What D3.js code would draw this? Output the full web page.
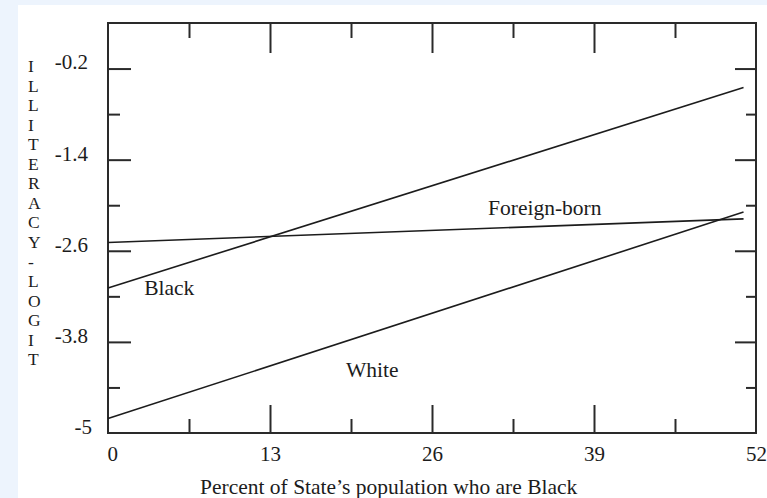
<!DOCTYPE html>
<html>
<head>
<meta charset="utf-8">
<script src="https://cdn.jsdelivr.net/npm/d3@7/dist/d3.min.js"></script>
<style>
  html, body { margin: 0; padding: 0; background: #edf4fd; }
  svg { display: block; }
  text { font-family: "Liberation Serif", "Times New Roman", serif; fill: #1c1c1c; }
</style>
</head>
<body>
<svg id="chart" width="767" height="498"></svg>
<script>
// Fitted illiteracy logits against percent of a state's population who are Black
const xEnds = [0, 51];
const foreignBorn = [-2.49, -2.18];
const black = [-3.09, -0.45];
const white = [-4.81, -2.09];
const seriesNames = ["Foreign-born", "Black", "White"];

const xMajorTicks = [0, 13, 26, 39, 52];
const xMinorTicks = [6.5, 19.5, 32.5, 45.5];
const yMajorTicks = [-5, -3.8, -2.6, -1.4, -0.2];
const yMinorTicks = [-4.4, -3.2, -2.0, -0.8];
const yTitle = "ILLITERACY-LOGIT";
const xTitle = "Percent of State\u2019s population who are Black";

// label anchors, in data units
const labelAnchors = { "Foreign-born": [30.5, -2.13], "Black": [2.9, -3.18], "White": [19.1, -4.26] };

const svg = d3.select("#chart");
const ink = "#1c1c1c";

// paper
svg.append("rect").attr("x", 18).attr("y", 5).attr("width", 767 - 18).attr("height", 498 - 5).attr("fill", "#ffffff");

const x = d3.scaleLinear().domain([0, 52]).range([108, 756]);
const y = d3.scaleLinear().domain([-5, 0.4]).range([433, 23]);

// frame
svg.append("rect")
  .attr("x", x(0)).attr("y", y(0.4))
  .attr("width", x(52) - x(0)).attr("height", y(-5) - y(0.4))
  .attr("fill", "none").attr("stroke", "#2a2a2a").attr("stroke-width", 2);

function styleAxis(g) {
  g.select(".domain").remove();
  g.selectAll(".tick line").attr("stroke", "#2a2a2a").attr("stroke-width", 2);
  g.selectAll("text").attr("fill", ink).style("font-size", "21px")
    .style("font-family", '"Liberation Serif", "Times New Roman", serif');
}

// plain hyphen for negative numbers, as typeset
const plain = d => String(d);

// bottom axis: labelled majors and short minors, ticks pointing inward
svg.append("g").attr("transform", `translate(0,${y(-5)})`)
  .call(d3.axisBottom(x).tickValues(xMajorTicks.slice(1, -1)).tickSize(-28).tickFormat(""))
  .call(styleAxis);
svg.append("g").attr("transform", `translate(0,${y(-5)})`)
  .call(d3.axisBottom(x).tickValues(xMinorTicks).tickSize(-14).tickFormat(""))
  .call(styleAxis);
const xLab = svg.append("g").attr("transform", `translate(0,${y(-5)})`)
  .call(d3.axisBottom(x).tickValues(xMajorTicks).tickSize(0).tickPadding(13).tickFormat(plain))
  .call(styleAxis);
xLab.selectAll(".tick").filter(d => d === 0).select("text").attr("text-anchor", "start").attr("x", -1);

// top axis
svg.append("g").attr("transform", `translate(0,${y(0.4)})`)
  .call(d3.axisTop(x).tickValues(xMajorTicks.slice(1, -1)).tickSize(-30).tickFormat(""))
  .call(styleAxis);
svg.append("g").attr("transform", `translate(0,${y(0.4)})`)
  .call(d3.axisTop(x).tickValues(xMinorTicks).tickSize(-15).tickFormat(""))
  .call(styleAxis);

// left axis
svg.append("g").attr("transform", `translate(${x(0)},0)`)
  .call(d3.axisLeft(y).tickValues(yMajorTicks.slice(1)).tickSize(-23).tickFormat(""))
  .call(styleAxis);
svg.append("g").attr("transform", `translate(${x(0)},0)`)
  .call(d3.axisLeft(y).tickValues(yMinorTicks).tickSize(-12).tickFormat(""))
  .call(styleAxis);
const yLab = svg.append("g").attr("transform", `translate(${x(0)},0)`)
  .call(d3.axisLeft(y).tickValues(yMajorTicks).tickSize(0).tickPadding(20).tickFormat(plain))
  .call(styleAxis);
yLab.selectAll("text").attr("dy", "0.02em");
yLab.selectAll(".tick").filter(d => d === -5).select("text").attr("x", -16);

// right axis
svg.append("g").attr("transform", `translate(${x(52)},0)`)
  .call(d3.axisRight(y).tickValues(yMajorTicks.slice(1)).tickSize(-21).tickFormat(""))
  .call(styleAxis);
svg.append("g").attr("transform", `translate(${x(52)},0)`)
  .call(d3.axisRight(y).tickValues(yMinorTicks).tickSize(-10).tickFormat(""))
  .call(styleAxis);

// fitted lines
const seriesValues = [foreignBorn, black, white];
const line = d3.line().x(d => x(d[0])).y(d => y(d[1]));
seriesNames.forEach((name, i) => {
  const pts = xEnds.map((xv, j) => [xv, seriesValues[i][j]]);
  svg.append("path").datum(pts).attr("d", line)
    .attr("fill", "none").attr("stroke", ink).attr("stroke-width", 1.6);
  const a = labelAnchors[name];
  svg.append("text").attr("x", x(a[0])).attr("y", y(a[1]))
    .style("font-size", "21.5px").text(name);
});

// vertical axis title, one letter per line
const yt = svg.append("text").attr("x", 28).attr("y", 72).style("font-size", "17.5px");
yt.selectAll("tspan").data(yTitle.split("")).join("tspan")
  .attr("x", 28).attr("dy", (d, i) => i === 0 ? 0 : 19.55).text(d => d);

// horizontal axis title
svg.append("text").attr("x", 200).attr("y", 494).style("font-size", "21.5px").text(xTitle);
</script>
</body>
</html>
